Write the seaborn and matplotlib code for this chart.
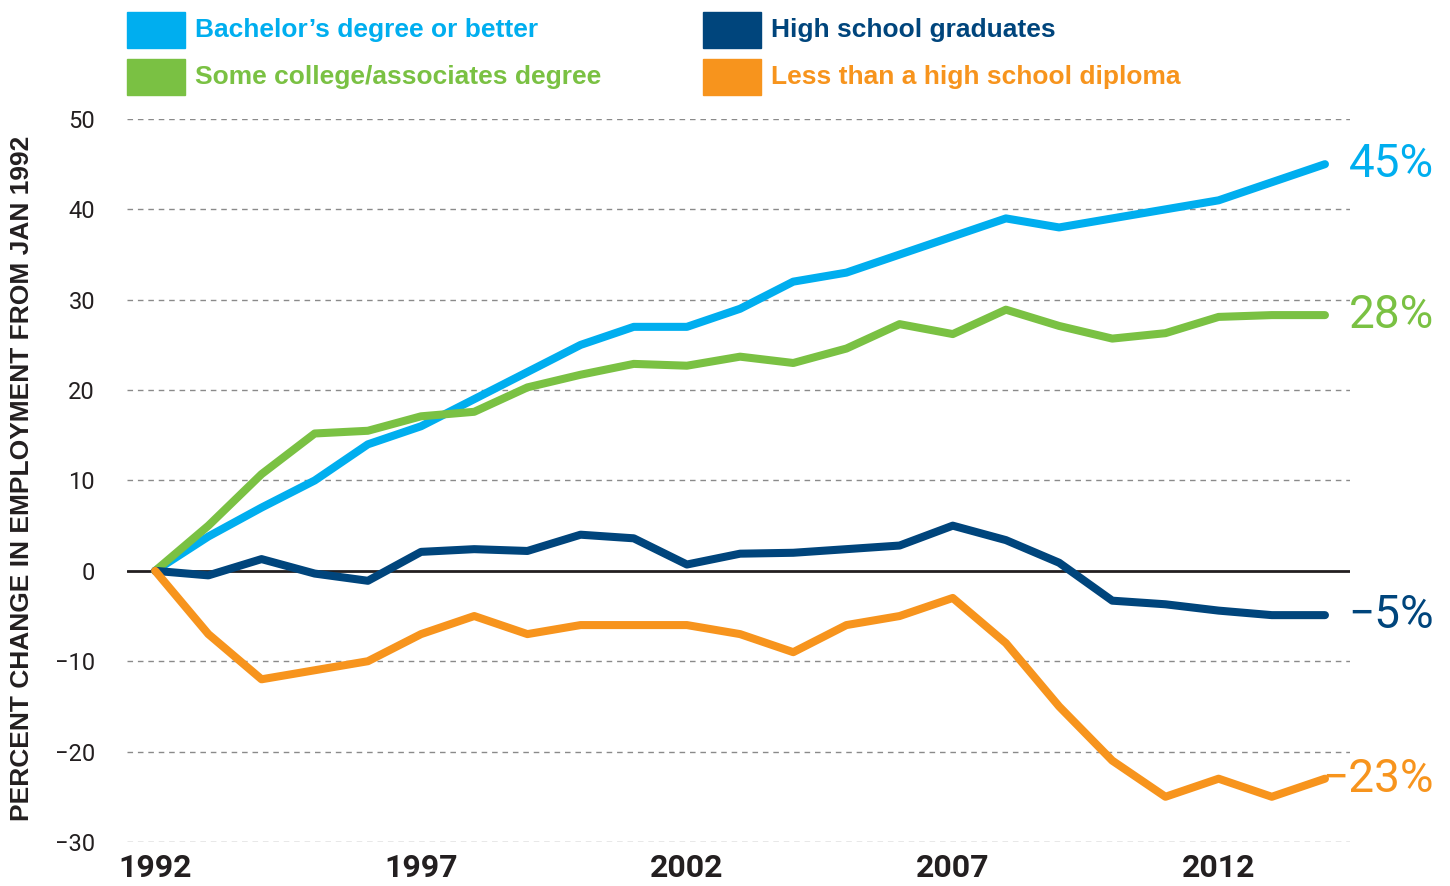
import matplotlib
matplotlib.use("Agg")
import matplotlib.pyplot as plt
import matplotlib.transforms as mtransforms
from matplotlib.patches import Rectangle
import pandas as pd
import seaborn as sns

years = list(range(1992, 2015))
bachelors = [0, 3.8, 7, 10, 14, 16, 19, 22, 25, 27, 27, 29, 32, 33, 35, 37, 39, 38, 39, 40, 41, 43, 45]
some_college = [0, 5, 10.7, 15.2, 15.5, 17.1, 17.6, 20.3, 21.7, 22.9, 22.7, 23.7, 23, 24.6, 27.3, 26.2,
                28.9, 27.1, 25.7, 26.3, 28.1, 28.3, 28.3]
high_school = [0, -0.5, 1.3, -0.3, -1.1, 2.1, 2.4, 2.2, 4, 3.6, 0.7, 1.9, 2.0, 2.4, 2.8, 5, 3.4, 0.9,
               -3.3, -3.7, -4.4, -4.9, -4.9]
less_than_hs = [0, -7, -12, -11, -10, -7, -5, -7, -6, -6, -6, -7, -9, -6, -5, -3, -8, -15, -21, -25,
                -23, -25, -23]

series_names = ["Bachelor\u2019s degree or better", "Some college/associates degree",
                "High school graduates", "Less than a high school diploma"]
series_values = [bachelors, some_college, high_school, less_than_hs]
end_labels = ["45%", "28%", "\u22125%", "\u221223%"]
colors = ["#00AEEF", "#7AC143", "#00457C", "#F7941D"]
x_ticks = [1992, 1997, 2002, 2007, 2012]
y_ticks = [-30, -20, -10, 0, 10, 20, 30, 40, 50]

df = pd.DataFrame({
    "year": years * len(series_names),
    "value": [v for vals in series_values for v in vals],
    "group": [n for n, vals in zip(series_names, series_values) for _ in vals],
})

sns.set_style("white")
plt.rcParams["font.family"] = ["Liberation Sans", "DejaVu Sans"]

fig = plt.figure(figsize=(14.5, 8.86), dpi=100)
ax = fig.add_axes([0.0876, 0.0497, 0.8434, 0.816])

for t in y_ticks:
    if t != 0:
        ax.axhline(t, color="#8a8a8a", lw=1, ls=(0, (4, 3.5)), zorder=0)
ax.axhline(0, color="#231f20", lw=2, zorder=1)

sns.lineplot(data=df, x="year", y="value", hue="group", hue_order=series_names,
             palette=colors, linewidth=5.8, legend=False, ax=ax,
             solid_capstyle="round", solid_joinstyle="round", zorder=3)

ax.set_xlim(1991.47, 2014.47)
ax.set_ylim(-30, 50)
ax.set_xticks(x_ticks)
ax.set_yticks(y_ticks)
ax.set_yticklabels([str(t).replace("-", "\u2212") for t in y_ticks],
                   fontfamily="Roboto", fontsize=17, color="#231f20")
ax.set_xticklabels([str(t) for t in x_ticks], fontfamily="Roboto",
                   fontweight="bold", fontsize=23, color="#231f20")
ax.tick_params(axis="y", length=0, pad=23)
ax.tick_params(axis="x", length=0, pad=8)
ax.set_xlabel(None)
ax.set_ylabel(None)
sns.despine(ax=ax, left=True, bottom=True)
ax.grid(False)

fig.text(0.015, 0.46, "PERCENT CHANGE IN EMPLOYMENT FROM JAN 1992", rotation=90,
         ha="center", va="center", fontsize=19, fontweight="bold", color="#231f20")

# end labels
trans = mtransforms.blended_transform_factory(fig.transFigure, ax.transData)
for vals, lab, c in zip(series_values, end_labels, colors):
    ax.text(0.989, vals[-1], lab, transform=trans, ha="right", va="center",
            fontfamily="Roboto", fontsize=33, color=c)

# legend
legend_pos = [(127, 12), (127, 59), (703, 12), (703, 59)]
W, H = 1450, 886
for (px, py), name, c in zip(legend_pos, series_names, colors):
    fig.patches.append(Rectangle((px / W, 1 - (py + 36) / H), 58 / W, 36 / H,
                                 transform=fig.transFigure, color=c))
    fig.text((px + 68) / W, 1 - (py + 18) / H, name, ha="left", va="center",
             fontsize=19, fontweight="bold", color=c)

fig.savefig("out.png", dpi=100)
